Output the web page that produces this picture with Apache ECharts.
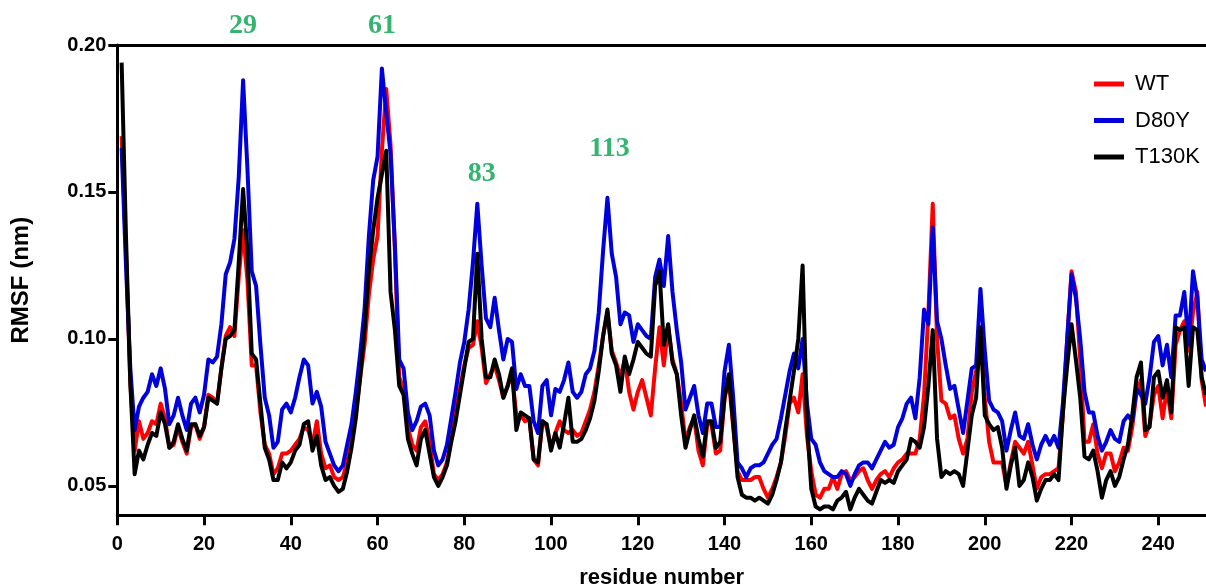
<!DOCTYPE html>
<html>
<head>
<meta charset="utf-8">
<script src="https://cdn.jsdelivr.net/npm/echarts@6/dist/echarts.min.js"></script>
<style>
html,body{margin:0;padding:0;background:#fff;}
#chart{width:1206px;height:588px;}
</style>
</head>
<body>
<div id="chart"></div>
<script>
// residues 1..251
const wt = [0.169,0.130,0.085,0.062,0.072,0.066,0.068,0.072,0.071,0.078,
0.073,0.063,0.064,0.070,0.065,0.061,0.070,0.071,0.066,0.070,
0.081,0.080,0.078,0.090,0.101,0.104,0.101,0.121,0.137,0.120,
0.091,0.091,0.075,0.064,0.061,0.054,0.056,0.061,0.061,0.062,
0.064,0.066,0.070,0.069,0.064,0.072,0.061,0.056,0.057,0.053,
0.052,0.053,0.058,0.065,0.075,0.087,0.098,0.115,0.127,0.135,
0.164,0.185,0.166,0.130,0.087,0.083,0.070,0.064,0.062,0.070,
0.072,0.065,0.054,0.052,0.054,0.058,0.066,0.075,0.083,0.091,
0.097,0.098,0.106,0.097,0.085,0.088,0.091,0.086,0.080,0.084,
0.088,0.074,0.074,0.072,0.073,0.059,0.057,0.072,0.070,0.063,
0.068,0.072,0.069,0.068,0.069,0.067,0.068,0.072,0.076,0.082,
0.091,0.101,0.109,0.096,0.092,0.087,0.093,0.082,0.076,0.082,
0.086,0.080,0.074,0.090,0.104,0.091,0.104,0.093,0.088,0.078,
0.065,0.070,0.073,0.062,0.057,0.071,0.071,0.061,0.062,0.080,
0.086,0.070,0.055,0.052,0.052,0.052,0.053,0.053,0.049,0.046,
0.049,0.053,0.058,0.067,0.078,0.080,0.075,0.088,0.067,0.055,
0.047,0.046,0.049,0.049,0.053,0.049,0.054,0.055,0.052,0.053,
0.055,0.056,0.052,0.049,0.052,0.054,0.055,0.053,0.056,0.058,
0.059,0.061,0.061,0.061,0.066,0.081,0.109,0.146,0.100,0.079,
0.078,0.073,0.074,0.066,0.061,0.066,0.082,0.089,0.101,0.080,
0.065,0.058,0.058,0.058,0.050,0.058,0.065,0.063,0.061,0.065,
0.057,0.049,0.053,0.054,0.054,0.055,0.056,0.074,0.100,0.123,
0.116,0.093,0.065,0.065,0.071,0.061,0.056,0.061,0.061,0.055,
0.058,0.063,0.062,0.070,0.082,0.086,0.067,0.071,0.081,0.084,
0.073,0.083,0.073,0.098,0.103,0.106,0.096,0.109,0.116,0.086,
0.077];
const d80y = [0.165,0.125,0.090,0.069,0.077,0.080,0.082,0.088,0.084,0.090,
0.083,0.071,0.074,0.080,0.074,0.069,0.078,0.080,0.075,0.081,
0.093,0.092,0.094,0.105,0.122,0.126,0.134,0.155,0.188,0.158,
0.123,0.118,0.098,0.080,0.074,0.063,0.065,0.076,0.078,0.075,
0.080,0.087,0.093,0.091,0.078,0.082,0.077,0.065,0.061,0.057,
0.055,0.057,0.064,0.071,0.082,0.095,0.110,0.135,0.154,0.162,
0.192,0.177,0.163,0.132,0.093,0.090,0.075,0.069,0.072,0.077,
0.078,0.074,0.062,0.057,0.059,0.064,0.073,0.082,0.092,0.099,
0.110,0.126,0.146,0.125,0.107,0.104,0.114,0.103,0.093,0.100,
0.099,0.083,0.088,0.084,0.084,0.072,0.068,0.084,0.086,0.074,
0.083,0.082,0.086,0.092,0.082,0.080,0.082,0.088,0.090,0.096,
0.109,0.130,0.148,0.129,0.121,0.105,0.109,0.108,0.099,0.105,
0.103,0.101,0.100,0.121,0.127,0.118,0.135,0.116,0.103,0.092,
0.076,0.080,0.084,0.074,0.068,0.078,0.078,0.070,0.070,0.089,
0.098,0.080,0.058,0.056,0.053,0.056,0.057,0.057,0.058,0.061,
0.064,0.066,0.073,0.081,0.089,0.095,0.090,0.100,0.078,0.066,
0.064,0.058,0.055,0.054,0.053,0.053,0.055,0.054,0.050,0.054,
0.057,0.058,0.058,0.056,0.059,0.062,0.065,0.063,0.064,0.070,
0.073,0.078,0.080,0.073,0.087,0.110,0.105,0.138,0.106,0.100,
0.091,0.083,0.084,0.076,0.068,0.079,0.090,0.091,0.117,0.096,
0.079,0.076,0.075,0.072,0.062,0.069,0.075,0.067,0.066,0.071,
0.064,0.059,0.064,0.067,0.064,0.067,0.063,0.078,0.100,0.122,
0.114,0.100,0.082,0.075,0.075,0.067,0.062,0.065,0.069,0.066,
0.065,0.072,0.074,0.072,0.083,0.081,0.078,0.087,0.099,0.101,
0.091,0.098,0.087,0.108,0.108,0.116,0.098,0.123,0.114,0.093,
0.089];
const t130k = [0.194,0.135,0.085,0.054,0.062,0.059,0.064,0.068,0.067,0.075,
0.071,0.063,0.065,0.071,0.066,0.062,0.071,0.071,0.067,0.070,
0.080,0.079,0.078,0.090,0.100,0.101,0.103,0.126,0.151,0.130,
0.095,0.093,0.078,0.063,0.059,0.052,0.052,0.058,0.056,0.058,
0.062,0.064,0.071,0.072,0.062,0.067,0.057,0.052,0.053,0.050,
0.048,0.049,0.055,0.063,0.073,0.087,0.103,0.123,0.137,0.148,
0.156,0.164,0.116,0.103,0.084,0.081,0.066,0.061,0.057,0.066,
0.069,0.061,0.053,0.050,0.053,0.057,0.065,0.072,0.081,0.090,
0.099,0.100,0.129,0.100,0.087,0.087,0.093,0.088,0.080,0.084,
0.090,0.069,0.075,0.074,0.073,0.059,0.058,0.072,0.071,0.062,
0.068,0.063,0.071,0.080,0.065,0.065,0.066,0.069,0.073,0.079,
0.089,0.101,0.110,0.095,0.091,0.082,0.094,0.088,0.093,0.099,
0.097,0.095,0.094,0.118,0.123,0.098,0.105,0.092,0.088,0.074,
0.063,0.069,0.074,0.066,0.060,0.072,0.072,0.063,0.065,0.080,
0.088,0.071,0.053,0.047,0.046,0.046,0.045,0.046,0.045,0.044,
0.047,0.052,0.058,0.069,0.079,0.089,0.100,0.125,0.072,0.049,
0.043,0.042,0.043,0.043,0.042,0.045,0.046,0.048,0.042,0.046,
0.049,0.047,0.045,0.044,0.048,0.052,0.051,0.052,0.051,0.055,
0.057,0.059,0.066,0.065,0.063,0.070,0.084,0.103,0.066,0.053,
0.055,0.054,0.055,0.054,0.050,0.062,0.074,0.080,0.104,0.074,
0.071,0.069,0.070,0.063,0.049,0.057,0.063,0.050,0.052,0.058,
0.053,0.045,0.049,0.052,0.052,0.054,0.052,0.075,0.091,0.105,
0.093,0.080,0.060,0.059,0.062,0.055,0.046,0.052,0.055,0.050,
0.053,0.059,0.064,0.074,0.087,0.092,0.069,0.070,0.087,0.089,
0.080,0.086,0.075,0.104,0.103,0.104,0.084,0.104,0.103,0.087,
0.081];
const seriesNames = ['WT', 'D80Y', 'T130K'];
const seriesColors = ['#ff0000', '#0000dd', '#000000'];
const xTicks = [0,20,40,60,80,100,120,140,160,180,200,220,240];
const yTicks = [0.05,0.10,0.15,0.20];
const peakLabels = ['29','61','83','113'];
const peakResidues = [29,61,84,113.5];
const peakLabelY = [0.2064,0.2064,0.1561,0.1646];

const toPairs = arr => arr.map((v,i) => [i+1, v]);
const allData = [wt, d80y, t130k];

const chart = echarts.init(document.getElementById('chart'), null, {renderer:'canvas'});
const axisFont = {fontFamily:'Liberation Sans', fontWeight:'bold', fontSize:20, color:'#000'};
const option = {
  backgroundColor:'#fff',
  animation:false,
  grid:{left:117.3, right:0, top:45, bottom:72.7, containLabel:false, outerBoundsMode:'none'},
  legend:{
    orient:'vertical', left:1089, top:68,
    itemWidth:30, itemHeight:5, itemGap:14.5, icon:'rect',
    textStyle:{fontFamily:'Liberation Sans', fontSize:22, color:'#000', lineHeight:22, padding:[0,0,0,6]},
    data: seriesNames
  },
  xAxis:[{
    type:'value', min:0, max:251,
    name:'residue number', nameLocation:'middle', nameGap:52,
    nameTextStyle:{fontFamily:'Liberation Sans', fontWeight:'bold', fontSize:22, color:'#000'},
    axisLine:{show:true, lineStyle:{color:'#000', width:3}},
    axisTick:{show:true, length:10, lineStyle:{color:'#000', width:3}, customValues:xTicks},
    axisLabel:Object.assign({margin:19, customValues:xTicks}, axisFont),
    splitLine:{show:false}
  },{
    type:'value', min:0, max:251, position:'top',
    axisLine:{show:true, lineStyle:{color:'#000', width:3}},
    axisTick:{show:false}, axisLabel:{show:false}, splitLine:{show:false}
  }],
  yAxis:{
    type:'value', min:0.04, max:0.20,
    name:'RMSF (nm)', nameLocation:'middle', nameGap:84, nameRotate:90,
    nameTextStyle:{fontFamily:'Liberation Sans', fontWeight:'bold', fontSize:24, color:'#000'},
    axisLine:{show:true, lineStyle:{color:'#000', width:3}},
    axisTick:{show:true, length:9, lineStyle:{color:'#000', width:3}, customValues:yTicks},
    axisLabel:Object.assign({margin:11, customValues:yTicks, formatter:v=>v.toFixed(2)}, axisFont),
    splitLine:{show:false}
  },
  series: allData.map((arr, k) => ({
    name: seriesNames[k], type:'line', data: toPairs(arr),
    showSymbol:false, symbol:'none', clip:true,
    lineStyle:{color:seriesColors[k], width:4, join:'round'},
    itemStyle:{color:seriesColors[k]},
    z: 2 + k
  }))
};
option.series.push({
  type:'scatter', silent:true, symbolSize:0, clip:false,
  data: peakLabels.map((t,i) => ({value:[peakResidues[i], peakLabelY[i]], name:t})),
  label:{show:true, position:'inside', formatter:p=>p.name,
    fontFamily:'Liberation Serif', fontWeight:'bold', fontSize:28, color:'#00a14b'},
  z:10
});
chart.setOption(option);
</script>
</body>
</html>
